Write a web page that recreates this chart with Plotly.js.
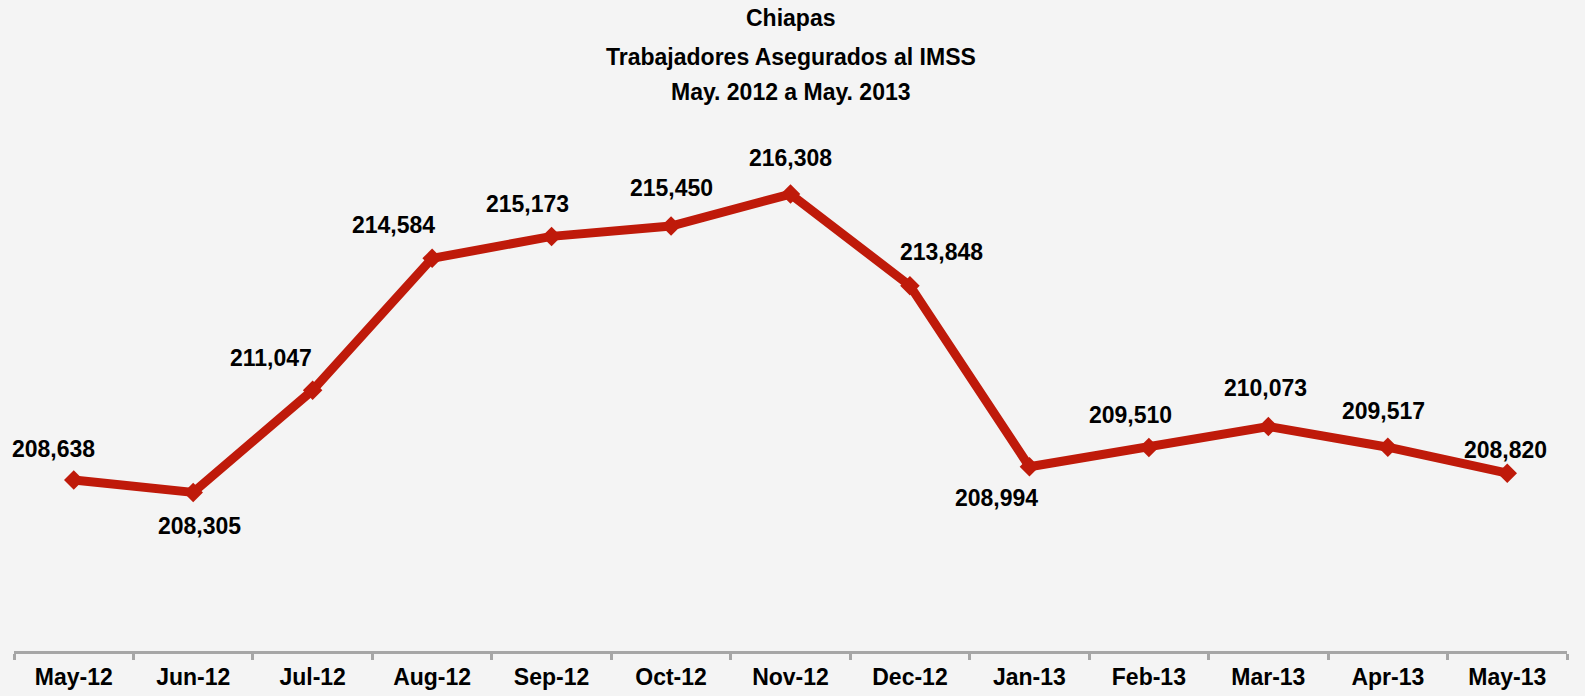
<!DOCTYPE html>
<html>
<head>
<meta charset="utf-8">
<script src="https://cdn.plot.ly/plotly-3.0.1.min.js"></script>
<style>html,body{margin:0;padding:0;background:#f4f4f4;}#chart{width:1585px;height:696px;}</style>
</head>
<body>
<div id="chart"></div>
<script>
const months = ["May-12","Jun-12","Jul-12","Aug-12","Sep-12","Oct-12","Nov-12","Dec-12","Jan-13","Feb-13","Mar-13","Apr-13","May-13"];
const workers = [208638,208305,211047,214584,215173,215450,216308,213848,208994,209510,210073,209517,208820];
const labelTexts = ["208,638","208,305","211,047","214,584","215,173","215,450","216,308","213,848","208,994","209,510","210,073","209,517","208,820"];
const titleLines = ["Chiapas", "Trabajadores Asegurados al IMSS", "May. 2012 a May. 2013"];
// label offsets (pixels) relative to each point
const labelDx = [-20, 6, -42, -39, -24, 0, 0, 32, -33, -18, -3, -4, -2];
const labelDy = [31, -34, 32, 33, 32, 38, 36, 34, -31, 32, 38, 36, 23];

const FONT = "'Liberation Sans', Arial, sans-serif";
const RED = "#bf1a0a";

const annotations = months.map((m, i) => ({
  x: m, y: workers[i], xref: 'x', yref: 'y',
  text: labelTexts[i], showarrow: false,
  xshift: labelDx[i], yshift: labelDy[i],
  font: {family: FONT, size: 23, color: '#000', weight: 'bold'}
}));

// title lines, centred at pixel rows 18, 58, 92 (plot area: top 131, height 520)
const titleRows = [18, 57, 92];
titleLines.forEach((t, i) => {
  annotations.push({
    xref: 'paper', yref: 'paper', x: 0.5, y: (651 - titleRows[i]) / 520,
    xanchor: 'center', yanchor: 'middle', showarrow: false, text: t,
    font: {family: FONT, size: 23, color: '#000', weight: 'bold'}
  });
});

const trace = {
  x: months, y: workers, type: 'scatter', mode: 'lines+markers',
  line: {color: RED, width: 9},
  marker: {symbol: 'diamond', size: 15, color: RED},
  hoverinfo: 'skip'
};

const layout = {
  width: 1585, height: 696,
  paper_bgcolor: '#f4f4f4', plot_bgcolor: '#f4f4f4',
  margin: {l: 14, r: 18, t: 131, b: 45},
  showlegend: false,
  xaxis: {
    type: 'category', range: [-0.5, 12.5],
    showline: true, linecolor: '#a6a6a6', linewidth: 3,
    ticks: 'outside', tickson: 'boundaries', ticklen: 6, tickwidth: 3, tickcolor: '#a6a6a6',
    ticklabelstandoff: 3,
    tickfont: {family: FONT, size: 23, color: '#000', weight: 'bold'},
    showgrid: false, zeroline: false, fixedrange: true
  },
  yaxis: {
    range: [204050, 218000], visible: false, showgrid: false, zeroline: false, fixedrange: true
  },
  annotations: annotations
};

Plotly.newPlot('chart', [trace], layout, {displayModeBar: false, staticPlot: true});
</script>
</body>
</html>
